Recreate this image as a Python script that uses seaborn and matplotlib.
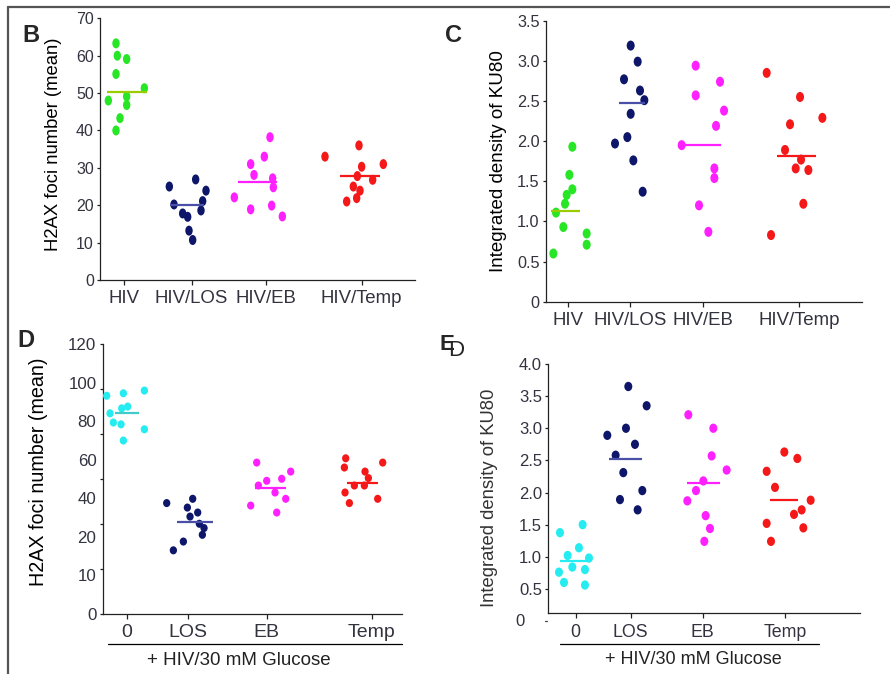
import numpy as np
import pandas as pd
import matplotlib
matplotlib.use("Agg")
import matplotlib.pyplot as plt
from matplotlib.path import Path
from matplotlib.transforms import Affine2D, blended_transform_factory
from matplotlib.lines import Line2D
import seaborn as sns

# ------------------------------------------------------------------ data
# Panel B : H2AX foci number (mean)
b_groups = ["HIV", "HIV/LOS", "HIV/EB", "HIV/Temp"]
b_hiv = [63.3, 60.0, 59.1, 55.1, 51.3, 48.0, 49.1, 46.8, 43.3, 40.0]
b_los = [25.0, 20.2, 17.8, 16.9, 13.2, 10.7, 26.9, 23.9, 21.1, 18.6]
b_eb = [22.1, 31.0, 28.1, 18.9, 33.0, 38.2, 27.2, 24.8, 19.9, 17.0]
b_temp = [33.0, 21.0, 25.0, 27.8, 21.9, 23.9, 30.3, 36.0, 26.8, 31.0]
b_means = [50.2, 20.1, 26.3, 27.8]
# horizontal scatter offsets (jitter)
b_hiv_dx = [-0.24, -0.20, 0.08, -0.24, 0.61, -0.47, 0.08, 0.08, -0.12, -0.24]
b_los_dx = [-0.67, -0.53, -0.27, -0.12, -0.08, 0.03, 0.12, 0.43, 0.33, 0.28]
b_eb_dx = [-0.94, -0.45, -0.35, -0.45, -0.04, 0.13, 0.21, 0.23, 0.18, 0.50]
b_temp_dx = [-1.10, -0.45, -0.25, -0.13, -0.15, -0.05, 0.00, -0.08, 0.33, 0.65]

# Panel C : Integrated density of KU80
c_groups = ["HIV", "HIV/LOS", "HIV/EB", "HIV/Temp"]
c_hiv = [0.60, 1.11, 0.93, 1.22, 1.33, 1.40, 1.58, 1.93, 0.85, 0.71]
c_los = [1.97, 2.05, 2.34, 1.76, 1.37, 2.77, 3.19, 2.99, 2.63, 2.51]
c_eb = [1.95, 2.94, 2.57, 1.20, 0.87, 1.66, 1.54, 2.19, 2.74, 2.38]
c_temp = [2.85, 0.83, 1.89, 2.21, 1.66, 2.55, 1.77, 1.64, 1.22, 2.29]
c_means = [1.13, 2.47, 1.95, 1.81]
c_hiv_dx = [-0.45, -0.37, -0.15, -0.10, -0.05, 0.12, 0.03, 0.12, 0.55, 0.55]
c_los_dx = [-0.45, -0.08, 0.02, 0.10, 0.38, -0.18, 0.02, 0.23, 0.30, 0.43]
c_eb_dx = [-0.63, -0.21, -0.21, -0.11, 0.17, 0.35, 0.35, 0.40, 0.52, 0.64]
c_temp_dx = [-0.97, -0.84, -0.42, -0.27, -0.10, 0.03, 0.06, 0.28, 0.13, 0.70]

# Panel D : H2AX foci number (mean), + HIV/30 mM Glucose
d_groups = ["0", "LOS", "EB", "Temp"]
d_zero = [97.0, 98.1, 99.3, 89.2, 91.4, 92.2, 85.1, 84.3, 82.1, 77.1]
d_los = [49.3, 51.2, 47.3, 45.1, 43.3, 40.1, 38.2, 35.2, 32.2, 28.3]
d_eb = [67.3, 63.3, 60.1, 59.2, 57.1, 54.0, 51.2, 48.2, 45.1]
d_temp = [69.2, 67.3, 65.1, 63.3, 60.4, 57.1, 57.1, 54.0, 51.2, 49.3]
d_means = [89.2, 40.7, 55.9, 58.1]
d_zero_dx = [-0.60, -0.10, 0.53, -0.50, -0.15, 0.03, -0.40, -0.17, 0.53, -0.10]
d_los_dx = [-0.65, 0.13, -0.03, 0.28, 0.05, 0.33, 0.47, 0.42, -0.15, -0.45]
d_eb_dx = [-0.30, 0.72, 0.45, 0.00, -0.25, 0.25, 0.57, -0.48, 0.30]
d_temp_dx = [-0.78, 0.33, -0.82, -0.20, -0.10, -0.52, -0.22, -0.80, 0.18, -0.67]
d_ytick_labels = ["0", "10", "20", "40", "60", "80", "100", "120"]

# Panel E : Integrated density of KU80, + HIV/30 mM Glucose
e_groups = ["0", "LOS", "EB", "Temp"]
e_zero = [1.375, 1.50, 1.14, 1.02, 0.98, 0.76, 0.84, 0.80, 0.60, 0.56]
e_los = [3.65, 3.35, 2.89, 3.00, 2.75, 2.58, 2.31, 1.89, 2.03, 1.73]
e_eb = [3.21, 3.00, 2.57, 2.35, 2.18, 2.03, 1.87, 1.64, 1.44, 1.24]
e_temp = [2.63, 2.53, 2.33, 2.08, 1.88, 1.73, 1.66, 1.52, 1.45, 1.24]
e_means = [0.94, 2.52, 2.15, 1.89]
e_zero_dx = [-0.47, 0.21, 0.10, -0.24, 0.40, -0.50, -0.10, 0.28, -0.35, 0.28]
e_los_dx = [-0.07, 0.48, -0.70, -0.14, 0.13, -0.45, -0.22, -0.32, 0.35, 0.21]
e_eb_dx = [-0.43, 0.32, 0.27, 0.72, 0.02, -0.20, -0.46, 0.09, 0.22, 0.05]
e_temp_dx = [-0.02, 0.37, -0.55, -0.30, 0.77, 0.50, 0.27, -0.55, 0.55, -0.42]

# ------------------------------------------------------------------ style
sns.set_style("ticks")
plt.rcParams["font.family"] = ["Liberation Sans", "DejaVu Sans"]

GREEN = "#26e626"
NAVY = "#0d1668"
MAGENTA = "#ff20ff"
RED = "#f41818"
CYAN = "#24ecf0"
TICKC = "#333340"


def ellipse_marker(ratio):
    return Affine2D().scale(ratio, 1.0).transform_path(Path.unit_circle())


def draw_panel(ax, groups, pos, vals, dxs, colors, means, mean_dx, mean_hw,
               mean_colors, marker, size):
    rows = []
    for g, p, v, d in zip(groups, pos, vals, dxs):
        for yy, dd in zip(v, d):
            rows.append({"group": g, "x": p + dd, "y": yy})
    df = pd.DataFrame(rows)
    sns.scatterplot(data=df, x="x", y="y", hue="group",
                    palette=dict(zip(groups, colors)), marker=marker, s=size,
                    edgecolor="none", linewidth=0, legend=False, ax=ax,
                    zorder=3, clip_on=False)
    for p, m, md, hw, c in zip(pos, means, mean_dx, mean_hw, mean_colors):
        ax.hlines(m, p + md - hw, p + md + hw, color=c, lw=1.6, zorder=4)
    sns.despine(ax=ax)
    for s in ("left", "bottom"):
        ax.spines[s].set_color("#222222")
        ax.spines[s].set_linewidth(0.9)
    ax.set_xlabel("")
    ax.tick_params(axis="x", direction="out", length=3.5, width=0.9,
                   color="#222222", pad=4)
    ax.tick_params(axis="y", direction="out", length=2.5, width=0.9,
                   color="#222222", pad=2, labelcolor=TICKC)


fig = plt.figure(figsize=(8.9, 6.74), dpi=100)
W, H = 890.0, 674.0


def add_axes(left, top, right, bottom):
    return fig.add_axes([left / W, 1 - bottom / H, (right - left) / W,
                         (bottom - top) / H])


# ---------------- Panel B
axB = add_axes(100, 18.3, 415, 280)
b_pos = [3.72, 5.75, 7.97, 10.85]
draw_panel(axB, b_groups, b_pos, [b_hiv, b_los, b_eb, b_temp],
           [b_hiv_dx, b_los_dx, b_eb_dx, b_temp_dx],
           [GREEN, NAVY, MAGENTA, RED], b_means,
           [0.08, -0.14, -0.25, -0.05], [0.60, 0.51, 0.58, 0.60],
           ["#9acd00", "#4a50a8", MAGENTA, RED], ellipse_marker(0.74), 52)
axB.set_xlim(3.0, 12.45)
axB.set_ylim(0, 70)
axB.set_yticks(np.arange(0, 71, 10), [str(v) for v in range(0, 71, 10)],
               fontsize=11.5)
axB.set_xticks(b_pos, b_groups, fontsize=13.4, color=TICKC)
axB.set_ylabel("H2AX foci number (mean)", fontsize=13.3, color="black")
axB.yaxis.set_label_coords(-0.121, 0.52)

# ---------------- Panel C
axC = add_axes(546, 20.7, 861.7, 301.7)
c_pos = [3.70, 5.55, 7.73, 10.62]
draw_panel(axC, c_groups, c_pos, [c_hiv, c_los, c_eb, c_temp],
           [c_hiv_dx, c_los_dx, c_eb_dx, c_temp_dx],
           [GREEN, NAVY, MAGENTA, RED], c_means,
           [-0.09, 0.06, 0.00, -0.08], [0.44, 0.39, 0.55, 0.59],
           ["#9acd00", "#4a50a8", MAGENTA, RED], ellipse_marker(0.8), 52)
axC.set_xlim(3.03, 12.5)
axC.set_ylim(0, 3.5)
c_ticks = [0, 0.5, 1.0, 1.5, 2.0, 2.5, 3.0, 3.5]
axC.set_yticks(c_ticks, ["0", "0.5", "1.0", "1.5", "2.0", "2.5", "3.0", "3.5"],
               fontsize=11.7)
axC.set_xticks(c_pos, c_groups, fontsize=13.4, color=TICKC)
axC.set_ylabel("Integrated density of KU80", fontsize=13.5, color="black")
axC.yaxis.set_label_coords(-0.1245, 0.50)

# ---------------- Panel D
axD = add_axes(102.7, 344, 401.7, 614)
d_pos = [3.80, 5.65, 8.00, 11.15]
draw_panel(axD, d_groups, d_pos, [d_zero, d_los, d_eb, d_temp],
           [d_zero_dx, d_los_dx, d_eb_dx, d_temp_dx],
           [CYAN, NAVY, MAGENTA, RED], d_means,
           [0.01, 0.19, 0.11, -0.28], [0.37, 0.54, 0.47, 0.46],
           ["#40caca", "#4a50a8", MAGENTA, RED], ellipse_marker(0.9), 34)
axD.set_xlim(3.08, 12.05)
axD.set_ylim(0, 120)
axD.yaxis.remove_overlapping_locs = False
axD.set_yticks(np.arange(0, 121, 20), [""] * 7)
axD.set_yticks(np.linspace(0, 120, len(d_ytick_labels)), d_ytick_labels,
               minor=True, fontsize=12.2)
axD.tick_params(axis="y", which="minor", length=0, pad=4.5, labelcolor=TICKC)
axD.set_xticks(d_pos, d_groups, fontsize=14, color=TICKC)
axD.set_ylabel("H2AX foci number (mean)", fontsize=14.2, color="black")
axD.yaxis.set_label_coords(-0.183, 0.527)
axD.plot([0.018, 1.0], [-0.111, -0.111], transform=axD.transAxes,
         color="black", lw=0.9, clip_on=False)
axD.text(0.456, -0.173, "+ HIV/30 mM Glucose", transform=axD.transAxes,
         ha="center", va="center", fontsize=13.5, color="#222222")

# ---------------- Panel E
axE = add_axes(548.3, 364, 860, 613.3)
e_pos = [3.92, 5.57, 7.73, 10.20]
draw_panel(axE, e_groups, e_pos, [e_zero, e_los, e_eb, e_temp],
           [e_zero_dx, e_los_dx, e_eb_dx, e_temp_dx],
           [CYAN, NAVY, MAGENTA, RED], e_means,
           [-0.05, -0.15, 0.02, -0.04], [0.43, 0.50, 0.50, 0.42],
           [CYAN, "#4a50a8", MAGENTA, RED], ellipse_marker(0.86), 45)
axE.set_xlim(3.10, 12.45)
axE.set_ylim(0.12, 4.0)
e_ticks = [0.5, 1.0, 1.5, 2.0, 2.5, 3.0, 3.5, 4.0]
axE.set_yticks(e_ticks, ["0.5", "1.0", "1.5", "2.0", "2.5", "3.0", "3.5", "4.0"],
               fontsize=12)
blend = blended_transform_factory(axE.transAxes, axE.transData)
axE.text(-0.075, 0.0, "0", transform=blend, ha="right", va="center",
         fontsize=12, color=TICKC)
axE.plot([-0.011, -0.003], [0.0, 0.0], transform=blend, color="#444444",
         lw=0.9, clip_on=False)
axE.set_xticks(e_pos, e_groups, fontsize=12.8, color=TICKC)
axE.set_ylabel("Integrated density of KU80", fontsize=13.3, color="#333333")
axE.yaxis.set_label_coords(-0.161, 0.464)
axE.plot([0.0375, 0.868], [-0.123, -0.123], transform=axE.transAxes,
         color="black", lw=0.9, clip_on=False)
axE.text(0.467, -0.187, "+ HIV/30 mM Glucose", transform=axE.transAxes,
         ha="center", va="center", fontsize=13, color="#222222")

# ---------------- panel letters and frame
fig.text(31 / W, 1 - 36 / H, "B", fontsize=17, fontweight="bold",
         ha="center", va="center")
fig.text(453 / W, 1 - 36 / H, "C", fontsize=17, fontweight="bold",
         ha="center", va="center")
fig.text(25.5 / W, 1 - 340.5 / H, "D", fontsize=17, fontweight="bold",
         ha="center", va="center")
fig.text(447 / W, 1 - 344 / H, "E", fontsize=16, fontweight="bold",
         ha="center", va="center")
fig.text(456.5 / W, 1 - 350.5 / H, "D", fontsize=16,
         ha="center", va="center")

fig.add_artist(Line2D([7.5 / W, 1.0], [1 - 7 / H, 1 - 7 / H],
                      transform=fig.transFigure, color="#555555", lw=1.6))
fig.add_artist(Line2D([8 / W, 8 / W], [0.0, 1 - 7 / H],
                      transform=fig.transFigure, color="#555555", lw=1.6))

fig.savefig("out.png", dpi=100)
